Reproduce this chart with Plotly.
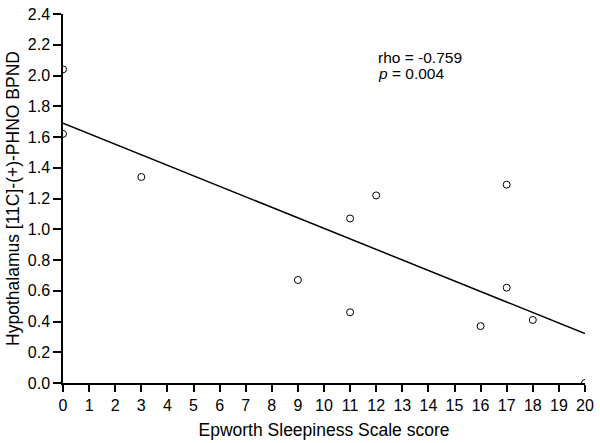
import numpy as np
import plotly.graph_objects as go

# Epworth score vs hypothalamus BPND
ess = [0, 0, 3, 9, 11, 11, 12, 16, 17, 17, 18, 20]
bpnd = [2.04, 1.62, 1.34, 0.67, 1.07, 0.46, 1.22, 0.37, 1.29, 0.62, 0.41, 0.0]
stat_lines = ["rho = -0.759", "<i>p</i> = 0.004"]

slope, icpt = np.polyfit(ess, bpnd, 1)
fit_x = [0, 20]
fit_y = [icpt + slope * v for v in fit_x]

fnt = dict(family="Liberation Sans, Arial", size=16, color="black")
tfnt = dict(family="Liberation Sans, Arial", size=17.5, color="black")

fig = go.Figure()
fig.add_trace(go.Scatter(x=fit_x, y=fit_y, mode="lines",
                         line=dict(color="black", width=1.5), hoverinfo="skip"))
fig.add_trace(go.Scatter(x=ess, y=bpnd, mode="markers",
                         marker=dict(symbol="circle-open", size=7, color="black",
                                     line=dict(width=1)),
                         cliponaxis=True))

for txt, yy in zip(stat_lines, [0.883, 0.838]):
    fig.add_annotation(x=0.6, y=yy, xref="paper", yref="paper", xanchor="left", yanchor="middle",
                       text=txt, showarrow=False, align="left",
                       font=dict(family="Liberation Sans, Arial", size=15.5, color="black"))

fig.update_layout(
    width=600, height=443, showlegend=False,
    margin=dict(l=63, r=9, t=6, b=57),
    plot_bgcolor="white", paper_bgcolor="white", font=fnt,
    xaxis=dict(range=[0, 20], tickmode="linear", tick0=0, dtick=1,
               showgrid=False, zeroline=False, showline=True, linecolor="black", linewidth=1.5,
               ticks="outside", ticklen=7, tickwidth=1.5, tickcolor="black", ticklabeloverflow="allow",
               title=dict(text="Epworth Sleepiness Scale score", standoff=11, font=tfnt), tickfont=fnt),
    yaxis=dict(range=[0, 2.4], tickmode="linear", tick0=0, dtick=0.2, tickformat=".1f",
               showgrid=False, zeroline=False, showline=True, linecolor="black", linewidth=1.5,
               ticks="outside", ticklen=8, tickwidth=1.5, tickcolor="black", ticklabeloverflow="allow",
               title=dict(text="Hypothalamus [11C]-(+)-PHNO BPND", standoff=4, font=tfnt), tickfont=fnt),
)

fig.write_html("out.html", config={"displayModeBar": False},
               post_script="document.body.style.margin='0';")
